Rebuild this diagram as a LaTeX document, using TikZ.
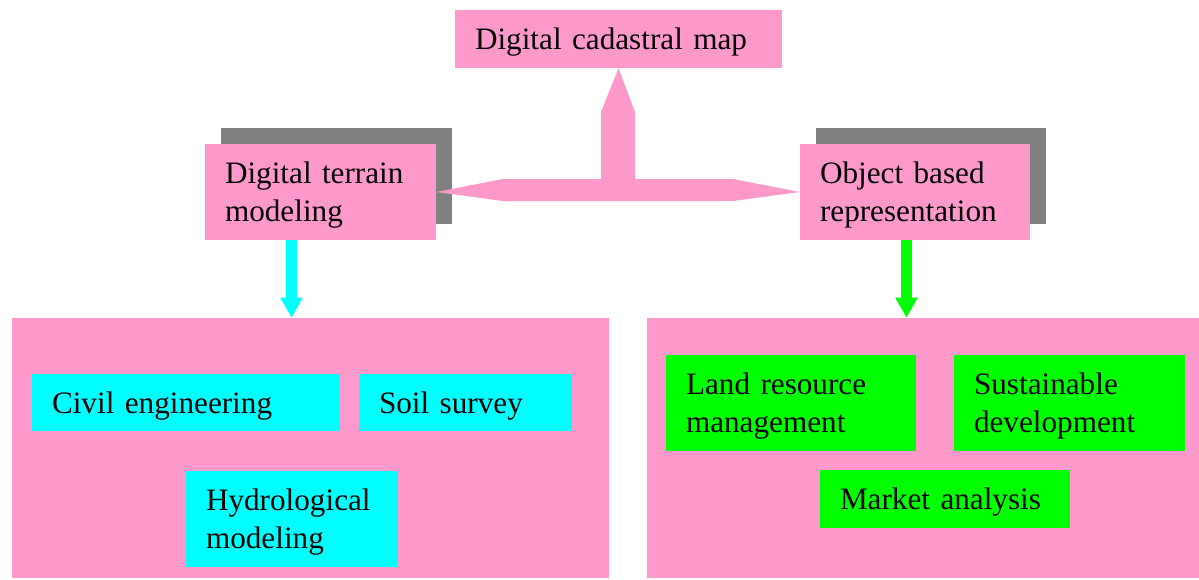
\documentclass[tikz,border=0pt]{standalone}
\usepackage{fontspec}
\setmainfont{Liberation Serif}
\usetikzlibrary{arrows.meta,shadows}
\definecolor{tpink}{HTML}{FF99CC}
\definecolor{tcyan}{HTML}{00FFFF}
\definecolor{tgreen}{HTML}{00FF00}
\definecolor{tgray}{HTML}{808080}
\tikzset{pbox/.style = {rectangle, fill=tpink, inner xsep=15pt, inner ysep=0pt, align=left,
                        font=\fontsize{23.4}{28.3}\selectfont},
         cbox/.style = {pbox, fill=tcyan},
         gbox/.style = {pbox, fill=tgreen},
         oneline/.style = {text depth=0pt},
         twoline/.style = {text depth=28.3pt},
         shadowed/.style = {general shadow={fill=tgray, shadow xshift=12pt, shadow yshift=12pt}},
         fatarrow/.style = {line width=8.25pt, -{Triangle[width=15.75pt,length=15pt]}}}

\begin{document}
\begin{tikzpicture}[x=0.75pt, y=-0.75pt]
      \useasboundingbox[fill=white] (0,0) rectangle (1199,579);
      % top level
      \node [pbox, oneline, text width=215.25pt, minimum height=43.5pt] (cad) at (618.5,39) {Digital cadastral map};
      \node [pbox, twoline, shadowed, text width=143.25pt, minimum height=72pt] (dtm) at (320.5,192) {Digital terrain\\modeling};
      \node [pbox, twoline, shadowed, text width=142.5pt, minimum height=72pt] (obr) at (915,192) {Object based\\representation};
      \fill [tpink] (dtm.east) -- (503,179) -- (601,179) -- (601,112) -- (cad.south) -- (635,112)
            -- (635,179) -- (733,179) -- (obr.west) -- (733,201) -- (503,201) -- cycle;
      % panels
      \node [pbox, minimum width=447.75pt, minimum height=195pt] (lpanel) at (310.5,448) {};
      \node [pbox, minimum width=414pt, minimum height=195pt] (rpanel) at (923,448) {};
      \draw [fatarrow, tcyan] (291.5,0 |- dtm.south) -- (291.5,0 |- lpanel.north);
      \draw [fatarrow, tgreen] (906.5,0 |- obr.south) -- (906.5,0 |- rpanel.north);
      % applications
      \node [cbox, oneline, text width=201pt, minimum height=42.75pt] (civil) at (186,402.5) {Civil engineering};
      \node [cbox, oneline, text width=129.75pt, minimum height=42.75pt] (soil) at (465.5,402.5) {Soil survey};
      \node [cbox, twoline, text width=129pt, minimum height=72pt] (hydro) at (292,519) {Hydrological\\modeling};
      \node [gbox, twoline, text width=157.5pt, minimum height=72pt] (land) at (791,403) {Land resource\\management};
      \node [gbox, twoline, text width=143.25pt, minimum height=72pt] (sust) at (1069.5,403) {Sustainable\\development};
      \node [gbox, oneline, text width=157.5pt, minimum height=43.5pt] (market) at (945,499) {Market analysis};
\end{tikzpicture}
\end{document}
